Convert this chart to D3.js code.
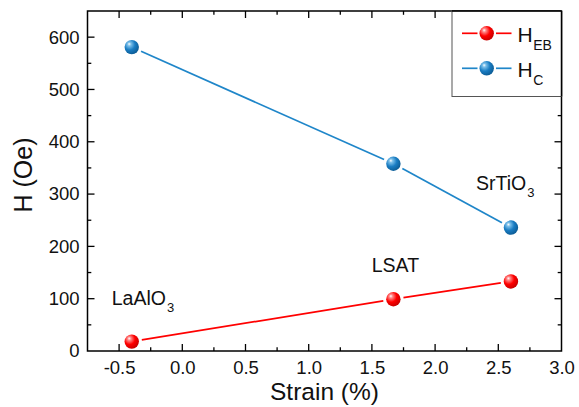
<!DOCTYPE html>
<html>
<head>
<meta charset="utf-8">
<script src="https://cdn.jsdelivr.net/npm/d3@7"></script>
<style>
  html, body { margin: 0; padding: 0; background: #fff; }
  svg { display: block; font-family: "Liberation Sans", Arial, sans-serif; }
</style>
</head>
<body>
<svg id="chart" width="579" height="407"></svg>
<script>
// Substrates and measured fields
const substrates = ["LaAlO", "LSAT", "SrTiO"];
const substrateSubs = ["3", "", "3"];
const strain = [-0.4, 1.67, 2.6];
const hEB = [18, 99, 133];
const hC = [581, 358, 236];

const xTicks = [-0.5, 0.0, 0.5, 1.0, 1.5, 2.0, 2.5, 3.0];
const yTicks = [0, 100, 200, 300, 400, 500, 600];

const svg = d3.select("#chart");
const W = 579, H = 407;
const m = { left: 87.5, right: 17.5, top: 11, bottom: 56 };
const pw = W - m.left - m.right, ph = H - m.top - m.bottom;

const x = d3.scaleLinear().domain([-0.75, 3.0]).range([m.left, m.left + pw]);
const y = d3.scaleLinear().domain([0, 650]).range([m.top + ph, m.top]);

// sphere-shaded markers
const defs = svg.append("defs");
function sphere(id, hi, mid, edge) {
  const g = defs.append("radialGradient").attr("id", id)
    .attr("cx", "38%").attr("cy", "36%").attr("r", "68%").attr("fx", "32%").attr("fy", "28%");
  g.append("stop").attr("offset", "0%").attr("stop-color", "#ffffff");
  g.append("stop").attr("offset", "18%").attr("stop-color", hi);
  g.append("stop").attr("offset", "55%").attr("stop-color", mid);
  g.append("stop").attr("offset", "100%").attr("stop-color", edge);
}
sphere("ballRed", "#ff8a8a", "#ff0000", "#c40000");
sphere("ballBlue", "#7cc0ea", "#1a7dc3", "#0b5a93");

const series = [
  { name: "EB", values: hEB, line: "#ff0000", fill: "url(#ballRed)" },
  { name: "C", values: hC, line: "#1f86c9", fill: "url(#ballBlue)" }
];
const R = 7.2, GAP = R + 3;

// axis frame ticks (inward, mirrored on all sides)
const majorLen = 7, minorLen = 3.8;
const xMinor = d3.range(-0.75, 3.0001, 0.25).filter(v => !xTicks.some(t => Math.abs(t - v) < 1e-6));
const yMinor = d3.range(50, 650, 100);

const axisG = svg.append("g").attr("stroke", "#000").attr("stroke-width", 1.3);
function tickSet(vals, len) {
  vals.forEach(v => {
    const px = x(v);
    axisG.append("line").attr("x1", px).attr("x2", px).attr("y1", y(0)).attr("y2", y(0) - len);
    axisG.append("line").attr("x1", px).attr("x2", px).attr("y1", m.top).attr("y2", m.top + len);
  });
}
function tickSetY(vals, len) {
  vals.forEach(v => {
    const py = y(v);
    axisG.append("line").attr("y1", py).attr("y2", py).attr("x1", m.left).attr("x2", m.left + len);
    axisG.append("line").attr("y1", py).attr("y2", py).attr("x1", m.left + pw).attr("x2", m.left + pw - len);
  });
}
tickSet(xTicks.filter(v => v > -0.75 && v < 3.0), majorLen);
tickSet(xMinor.filter(v => v > -0.75 && v < 3.0), minorLen);
tickSetY(yTicks.filter(v => v > 0), majorLen);
tickSetY(yMinor, minorLen);

// tick labels via d3 axes (tick lines hidden; frame ticks drawn above)
const xAxis = svg.append("g").attr("transform", `translate(0,${y(0)})`)
  .call(d3.axisBottom(x).tickValues(xTicks).tickSize(0).tickPadding(10).tickFormat(d3.format(".1f")));
const yAxis = svg.append("g").attr("transform", `translate(${m.left},0)`)
  .call(d3.axisLeft(y).tickValues(yTicks).tickSize(0).tickPadding(8).tickFormat(d3.format("d")));
[xAxis, yAxis].forEach(a => {
  a.select(".domain").remove();
  a.selectAll("text").attr("font-size", 18.5).attr("fill", "#111")
    .attr("font-family", "'Liberation Sans', Arial, sans-serif");
});
xAxis.selectAll("text").text(d => d < 0 ? "-" + Math.abs(d).toFixed(1) : d.toFixed(1));

// frame
svg.append("rect").attr("x", m.left).attr("y", m.top).attr("width", pw).attr("height", ph)
  .attr("fill", "none").attr("stroke", "#000").attr("stroke-width", 1.5);

// connecting lines with gaps at the markers
series.forEach(s => {
  const pts = strain.map((v, i) => [x(v), y(s.values[i])]);
  for (let i = 0; i < pts.length - 1; i++) {
    const [x1, y1] = pts[i], [x2, y2] = pts[i + 1];
    const d = Math.hypot(x2 - x1, y2 - y1), ux = (x2 - x1) / d, uy = (y2 - y1) / d;
    svg.append("line")
      .attr("x1", x1 + ux * GAP).attr("y1", y1 + uy * GAP)
      .attr("x2", x2 - ux * GAP).attr("y2", y2 - uy * GAP)
      .attr("stroke", s.line).attr("stroke-width", 1.7);
  }
  svg.append("g").selectAll("circle").data(s.values).join("circle")
    .attr("cx", (d, i) => x(strain[i])).attr("cy", d => y(d)).attr("r", R)
    .attr("fill", s.fill);
});

// substrate labels, placed relative to their data points
const labelOffsets = [
  { ref: hEB, dx: -20, dy: -37, anchor: "start" },
  { ref: hEB, dx: 2, dy: -27, anchor: "middle" },
  { ref: hC, dx: -35, dy: -38, anchor: "start" }
];
substrates.forEach((name, i) => {
  const o = labelOffsets[i];
  const t = svg.append("text")
    .attr("x", x(strain[i]) + o.dx).attr("y", y(o.ref[i]) + o.dy)
    .attr("text-anchor", o.anchor).attr("font-size", 19.5).attr("fill", "#111");
  t.append("tspan").text(name);
  if (substrateSubs[i]) t.append("tspan").attr("font-size", 13).attr("dx", 1).attr("dy", 7.5).text(substrateSubs[i]);
});

// axis titles
svg.append("text").attr("x", m.left + pw / 2).attr("y", 400).attr("text-anchor", "middle")
  .attr("font-size", 24.5).attr("fill", "#111").text("Strain (%)");
svg.append("text").attr("transform", `translate(32,175) rotate(-90)`).attr("text-anchor", "middle")
  .attr("font-size", 25).attr("fill", "#111").text("H (Oe)");

// legend
const lg = svg.append("g");
lg.append("rect").attr("x", 452).attr("y", m.top).attr("width", m.left + pw - 452).attr("height", 85.5)
  .attr("fill", "#fff").attr("stroke", "#555").attr("stroke-width", 1);
series.forEach((s, i) => {
  const cy = 33.3 + i * 35;
  lg.append("line").attr("x1", 462).attr("x2", 477.5).attr("y1", cy).attr("y2", cy)
    .attr("stroke", s.line).attr("stroke-width", 1.7);
  lg.append("line").attr("x1", 496).attr("x2", 511.5).attr("y1", cy).attr("y2", cy)
    .attr("stroke", s.line).attr("stroke-width", 1.7);
  lg.append("circle").attr("cx", 486.7).attr("cy", cy).attr("r", R).attr("fill", s.fill);
  const t = lg.append("text").attr("x", 517.5).attr("y", cy + 8.4).attr("font-size", 21).attr("fill", "#111");
  t.append("tspan").text("H");
  t.append("tspan").attr("font-size", 14).attr("dy", 8.3).attr("dx", 0.5).text(s.name);
});
// legend sits on top of the frame corner; redraw the frame edges it covers
svg.append("line").attr("x1", 452).attr("x2", m.left + pw).attr("y1", m.top).attr("y2", m.top)
  .attr("stroke", "#000").attr("stroke-width", 1.5);
svg.append("line").attr("x1", m.left + pw).attr("x2", m.left + pw).attr("y1", m.top).attr("y2", m.top + 85.5)
  .attr("stroke", "#000").attr("stroke-width", 1.5);
</script>
</body>
</html>
